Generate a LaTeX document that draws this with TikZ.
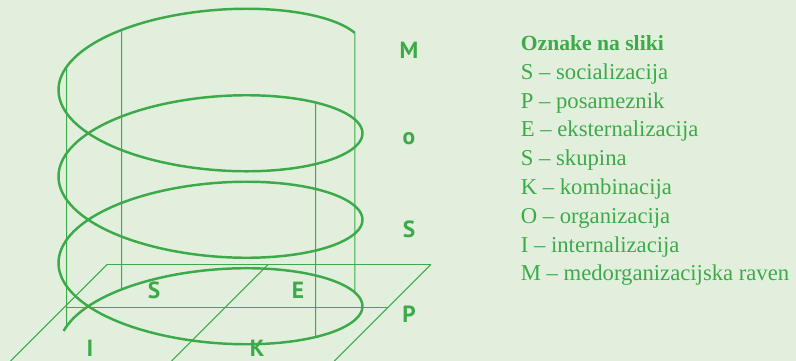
\documentclass[tikz,border=0pt]{standalone}
\usepackage{fontspec}
\setmainfont{Liberation Serif}
\newfontfamily\labelfont{PT Sans}
\usepackage{tikz}
\usetikzlibrary{positioning,calc}
\usepackage{xcolor}
\definecolor{sgreen}{HTML}{3DAA4A}
\definecolor{sbg}{HTML}{E1EFDC}

\tikzset{
  helixline/.style={sgreen, line width=1.4pt},
  gridline/.style={sgreen, line width=0.6pt},
  axlabel/.style={sgreen, font=\labelfont\bfseries\fontsize{13.3}{16}\selectfont, inner sep=0pt},
  legtext/.style={sgreen, font=\fontsize{12.9}{16}\selectfont, inner sep=0pt, anchor=base west},
}

\begin{document}
\begin{tikzpicture}[x=1cm, y=1cm,
  declare function={hx(\t)=4.21-3.04*cos(deg(\t));
                    hy(\t)=1.96+0.2753*\t+1.16*sin(deg(\t));}]
% ---- background ---------------------------------------------------
\fill[sbg] (0,0) rectangle (15.92,7.22);
\useasboundingbox (0,0) rectangle (15.92,7.22);
% ---- base plane ---------------------------------------------------
\draw[gridline] (2.146,1.934) -- (8.62,1.934);
\draw[gridline] (1.333,1.066) -- (7.752,1.066);
\draw[gridline] (2.146,1.934) -- (0.212,0);
\draw[gridline] (5.366,1.934) -- (3.432,0);
\draw[gridline] (8.62,1.934) -- (6.686,0);
% ---- generators of the cylinder -----------------------------------
\draw[gridline] ({hx(-2*pi+0.33)},{hy(-2*pi+0.33)}) -- ({hx(4*pi+0.33)},{hy(4*pi+0.33)});
\draw[gridline] ({hx(-2*pi+0.947)},{hy(-2*pi+0.947)}) -- ({hx(4*pi+0.947)},{hy(4*pi+0.947)});
\draw[gridline] ({hx(-pi+0.807)},{hy(-pi+0.807)}) -- ({hx(3*pi-0.807)},{hy(3*pi-0.807)});
\draw[gridline] ({hx(-pi-0.318)},{hy(-pi-0.318)}) -- ({hx(5*pi-0.318)},{hy(5*pi-0.318)});
% ---- spiral -------------------------------------------------------
\draw[helixline] plot[domain=-6.023:15.39, samples=400, smooth, variable=\t]
      ({hx(\t)},{hy(\t)});
% ---- level labels -------------------------------------------------
\node[axlabel] (mLbl) at (8.18,6.22) {M};
\node[axlabel] (oLbl) at (8.18,4.44) {o};
\node[axlabel] (sLbl) at (8.18,2.64) {S};
\node[axlabel] (pLbl) at (8.18,0.94) {P};
% ---- plane labels -------------------------------------------------
\node[axlabel] (sqS) at (3.08,1.42) {S};
\node[axlabel] (sqE) at (5.96,1.42) {E};
\node[axlabel] (sqI) at (1.80,0.26) {I};
\node[axlabel] (sqK) at (5.14,0.26) {K};
% ---- legend -------------------------------------------------------
\node[legtext, font=\bfseries\fontsize{12.3}{15}\selectfont] (legHead) at (10.41,6.21) {Oznake na sliki};
\node[legtext] (legS) at (10.41,5.634) {S -- socializacija};
\node[legtext] (legP) at (10.41,5.058) {P -- posameznik};
\node[legtext] (legE) at (10.41,4.482) {E -- eksternalizacija};
\node[legtext] (legSk) at (10.41,3.906) {S -- skupina};
\node[legtext] (legK) at (10.41,3.33) {K -- kombinacija};
\node[legtext] (legO) at (10.41,2.754) {O -- organizacija};
\node[legtext] (legI) at (10.41,2.178) {I -- internalizacija};
\node[legtext] (legM) at (10.41,1.602) {M -- medorganizacijska raven};
\end{tikzpicture}
\end{document}
